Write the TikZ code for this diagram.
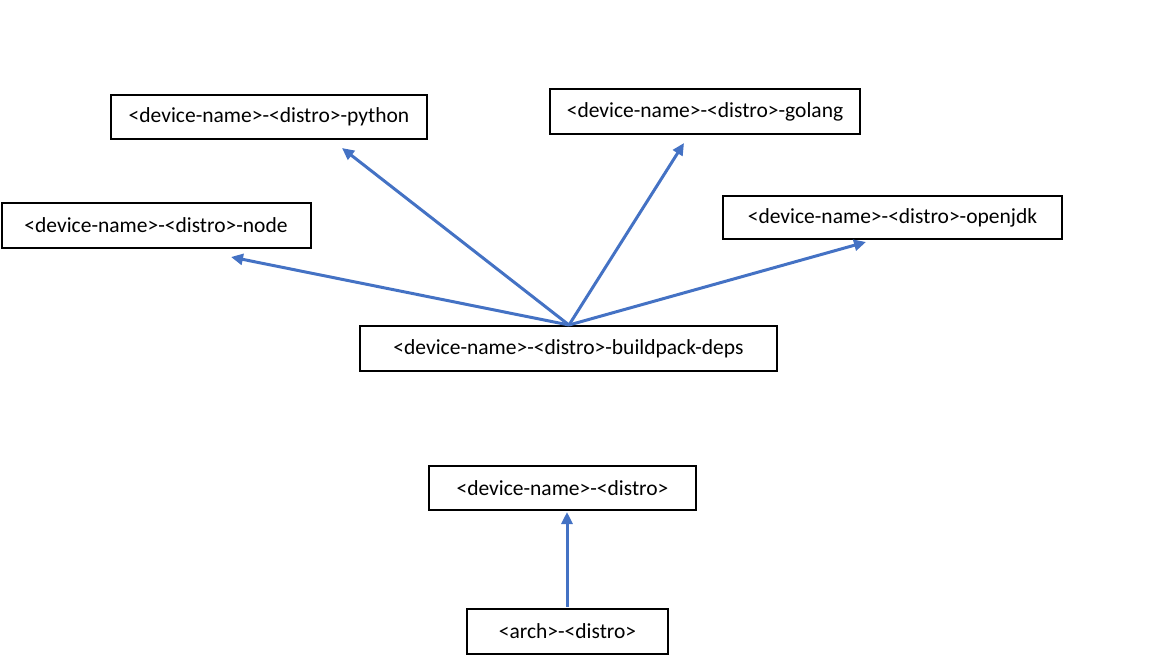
\documentclass[tikz,border=0pt]{standalone}
\usepackage{fontspec}
\setmainfont{Carlito}
\usetikzlibrary{arrows.meta}
\definecolor{arrowblue}{HTML}{4472C4}
\tikzset{
  box/.style={draw=black, line width=2pt, inner sep=0pt, font=\fontsize{21.5}{25}\selectfont},
  conn/.style={draw=arrowblue, line width=3pt, -{Triangle[length=12pt,width=11pt]}}
}
\begin{document}
\begin{tikzpicture}[x=1pt,y=-1pt]
\useasboundingbox (0,0) rectangle (1152,661);
\node[box, minimum width=316pt, minimum height=44pt] (python) at (269,117) {<device-name>-<distro>-python};
\node[box, minimum width=310pt, minimum height=45pt] (golang) at (705,111.5) {<device-name>-<distro>-golang};
\node[box, minimum width=309pt, minimum height=45pt] (nodejs) at (156,225.5) {<device-name>-<distro>-node};
\node[box, minimum width=339pt, minimum height=43pt] (openjdk) at (892.5,217.5) {<device-name>-<distro>-openjdk};
\node[box, minimum width=417pt, minimum height=45pt] (bp) at (568.5,348.5) {<device-name>-<distro>-buildpack-deps};
\node[box, minimum width=267pt, minimum height=44pt] (dev) at (562.5,488) {<device-name>-<distro>};
\node[box, minimum width=201pt, minimum height=45pt] (arch) at (567.5,631.5) {<arch>-<distro>};
\coordinate (tnode) at (231,257);
\coordinate (tpython) at (342,148);
\coordinate (tgolang) at (684,143);
\coordinate (topenjdk) at (866,242);
\coordinate (tdev) at (567,512);
\coordinate (bptop) at (569,325);
\coordinate (archtop) at (567,607);
\draw[conn] (bptop) -- (tnode);
\draw[conn] (bptop) -- (tpython);
\draw[conn] (bptop) -- (tgolang);
\draw[conn] (bptop) -- (topenjdk);
\draw[conn] (archtop) -- (tdev);
\end{tikzpicture}
\end{document}
